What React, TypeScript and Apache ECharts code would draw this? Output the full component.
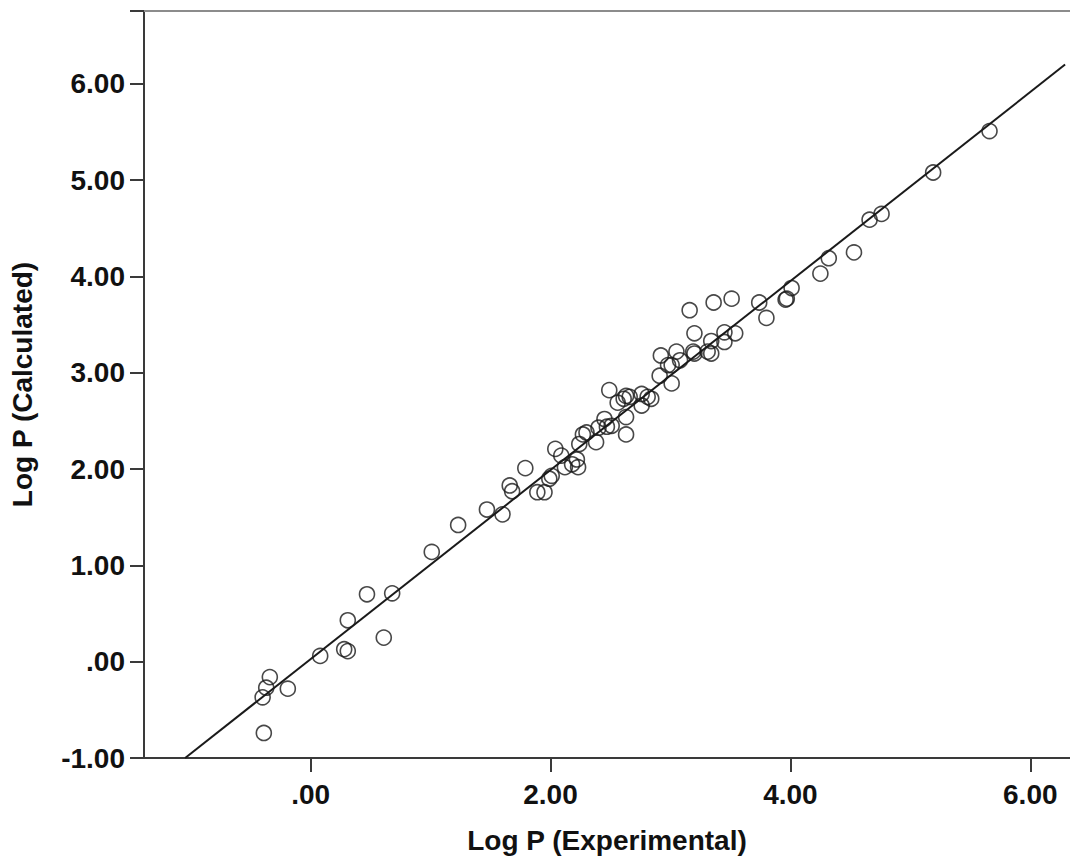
import React, { useEffect, useRef } from "react";
import * as echarts from "echarts";

// Observed points: [Log P (Experimental), Log P (Calculated)]
const experimental: number[] = [
  -0.39, -0.40, -0.37, -0.34, -0.19, 0.08, 0.28, 0.31, 0.31, 0.47, 0.61, 0.68, 1.01, 1.23,
  1.47, 1.60, 1.66, 1.68, 1.79, 1.89, 1.95, 1.99, 2.01, 2.04, 2.09, 2.12, 2.18, 2.22, 2.23,
  2.24, 2.27, 2.30, 2.38, 2.40, 2.45, 2.47,
  2.49, 2.51, 2.56, 2.61, 2.63, 2.66, 2.63, 2.63, 2.76, 2.81, 2.76, 2.84, 2.91, 2.98, 3.01,
  2.92, 3.05, 3.08, 3.19, 3.20, 3.31, 3.20, 3.01,
  3.16, 3.36, 3.51, 3.74, 3.80, 3.97, 3.96, 4.01, 3.34, 3.45, 3.54, 3.45, 3.34,
  4.25, 4.32, 4.53, 4.66, 4.76, 5.19, 5.66,
];
const calculated: number[] = [
  -0.74, -0.37, -0.27, -0.16, -0.28, 0.06, 0.13, 0.11, 0.43, 0.70, 0.25, 0.71, 1.14, 1.42,
  1.58, 1.53, 1.83, 1.77, 2.01, 1.76, 1.76, 1.90, 1.93, 2.21, 2.14, 2.02, 2.05, 2.10, 2.02,
  2.26, 2.36, 2.38, 2.28, 2.43, 2.52, 2.44,
  2.82, 2.45, 2.69, 2.73, 2.76, 2.75, 2.54, 2.36, 2.78, 2.75, 2.66, 2.73, 2.97, 3.08, 2.89,
  3.18, 3.22, 3.13, 3.22, 3.20, 3.22, 3.41, 3.08,
  3.65, 3.73, 3.77, 3.73, 3.57, 3.77, 3.76, 3.88, 3.33, 3.42, 3.41, 3.32, 3.20,
  4.03, 4.19, 4.25, 4.59, 4.65, 5.08, 5.51,
];

// Fit line
const fitSlope = 0.9815;
const fitIntercept = 0.027;
const fitXStart = -1.046;
const fitXEnd = 6.29;

const xTicks: number[] = [0, 2, 4, 6];
const xTitle = "Log P (Experimental)";
const yTitle = "Log P (Calculated)";

const X_MIN = -1.389;
const X_MAX = 6.331;
const Y_MIN = -1;
const Y_MAX = 6.757;

const fmt = (v: number) => v.toFixed(2).replace(/^(-?)0\./, "$1.");

export default function App() {
  const ref = useRef<HTMLDivElement>(null);
  useEffect(() => {
    if (!ref.current) return;
    const chart = echarts.init(ref.current, null, { renderer: "svg" });
    const points = experimental.map((x, i) => [x, calculated[i]]);
    const fitLine = [fitXStart, fitXEnd].map((x) => [x, fitSlope * x + fitIntercept]);
    const font = "'Liberation Sans', Arial, sans-serif";
    const axisColor = "#3a3a3a";
    chart.setOption({
      animation: false,
      backgroundColor: "#ffffff",
      grid: { left: 142, top: 11, right: 0, bottom: 103, containLabel: false },
      xAxis: [
        {
          type: "value",
          min: X_MIN,
          max: X_MAX,
          name: xTitle,
          nameLocation: "middle",
          nameGap: 68,
          nameTextStyle: { fontFamily: font, fontSize: 28, fontWeight: "bold", color: "#111" },
          axisLine: { show: true, onZero: false, lineStyle: { color: axisColor, width: 2 } },
          axisTick: { show: true, length: 14, customValues: xTicks, lineStyle: { color: axisColor, width: 2 } },
          axisLabel: {
            customValues: xTicks,
            formatter: (v: number) => fmt(v),
            fontFamily: font,
            fontSize: 28,
            fontWeight: "bold",
            color: "#111",
            margin: 22,
          },
          splitLine: { show: false },
        },
        {
          type: "value",
          position: "top",
          min: X_MIN,
          max: X_MAX,
          axisLine: { show: true, onZero: false, lineStyle: { color: "#8c8c8c", width: 2 } },
          axisTick: { show: false },
          axisLabel: { show: false },
          splitLine: { show: false },
        },
      ],
      yAxis: {
        type: "value",
        min: Y_MIN,
        max: Y_MAX,
        interval: 1,
        name: yTitle,
        nameLocation: "middle",
        nameGap: 108,
        nameTextStyle: { fontFamily: font, fontSize: 28, fontWeight: "bold", color: "#111" },
        axisLine: { show: true, onZero: false, lineStyle: { color: axisColor, width: 2 } },
        axisTick: { show: true, length: 14, lineStyle: { color: axisColor, width: 2 } },
        axisLabel: {
          formatter: (v: number) => (v > 6.5 ? "" : fmt(v)),
          fontFamily: font,
          fontSize: 28,
          fontWeight: "bold",
          color: "#111",
          margin: 19,
        },
        splitLine: { show: false },
      },
      series: [
        {
          type: "line",
          data: fitLine,
          showSymbol: false,
          symbol: "none",
          lineStyle: { color: "#1a1a1a", width: 2 },
          silent: true,
          z: 1,
        },
        {
          type: "scatter",
          data: points,
          symbol: "circle",
          symbolSize: 15,
          itemStyle: { color: "rgba(0,0,0,0)", borderColor: "#1a1a1a", borderWidth: 1.6 },
          z: 2,
        },
      ],
    });
    return () => chart.dispose();
  }, []);
  return (
    <div
      ref={ref}
      style={{ position: "fixed", left: 0, top: 0, width: 1070, height: 861, background: "#fff" }}
    />
  );
}
